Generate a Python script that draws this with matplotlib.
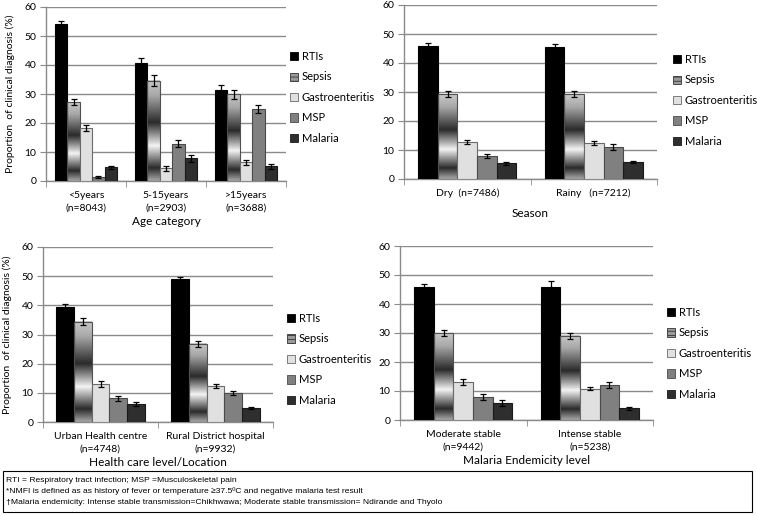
import numpy as np
import matplotlib
matplotlib.use("Agg")
import matplotlib.pyplot as plt
from matplotlib.colors import LinearSegmentedColormap
from matplotlib.patches import Patch

plt.rcParams['font.family'] = ['Lato', 'DejaVu Sans']

W, H = 757, 516

series = ['RTIs', 'Sepsis', 'Gastroenteritis', 'MSP', 'Malaria']

# panel 1 - age
age_cats = ['<5years\n(n=8043)', '5-15years\n(n=2903)', '>15years\n(n=3688)']
age_vals = [[54.1, 40.6, 31.5],
            [27.2, 34.6, 29.9],
            [18.3, 4.4, 6.5],
            [1.3, 12.9, 24.8],
            [4.7, 7.8, 5.1]]
age_err = [[1.0, 1.9, 1.5],
           [1.0, 1.8, 1.5],
           [0.9, 0.8, 0.9],
           [0.3, 1.3, 1.4],
           [0.5, 1.1, 0.8]]

# panel 2 - season
season_cats = ['Dry  (n=7486)', 'Rainy   (n=7212)']
season_vals = [[46.0, 45.5],
               [29.3, 29.3],
               [12.7, 12.4],
               [7.9, 11.0],
               [5.4, 5.9]]
season_err = [[1.0, 0.9],
              [1.0, 1.1],
              [0.8, 0.7],
              [0.6, 0.9],
              [0.5, 0.4]]

# panel 3 - health care level
level_cats = ['Urban Health centre\n(n=4748)', 'Rural District hospital\n(n=9932)']
level_vals = [[39.3, 48.9],
              [34.4, 26.8],
              [13.1, 12.2],
              [8.1, 10.1],
              [6.2, 4.9]]
level_err = [[1.0, 0.9],
             [1.3, 1.0],
             [1.0, 0.7],
             [0.8, 0.7],
             [0.8, 0.4]]

# panel 4 - endemicity
endem_cats = ['Moderate stable\n(n=9442)', 'Intense stable\n(n=5238)']
endem_vals = [[46.0, 46.0],
              [30.0, 29.0],
              [13.0, 10.8],
              [8.0, 12.0],
              [6.0, 4.0]]
endem_err = [[0.9, 2.0],
             [1.0, 1.0],
             [1.0, 0.6],
             [1.0, 1.0],
             [1.0, 0.5]]

face = ['#000000', None, '#e0e0e0', '#808080', '#2e2e2e']
edge = ['#000000', '#505050', '#6a6a6a', '#4a4a4a', '#1a1a1a']

# excel style gradient on the sepsis bars (bottom -> top)
sepsis_cmap = LinearSegmentedColormap.from_list(
    'sep', [(0.0, '#a8a8a8'), (0.13, '#2a2a2a'), (0.35, '#f4f4f4'),
            (0.58, '#2a2a2a'), (0.85, '#a8a8a8'), (1.0, '#c8c8c8')])
grad = np.linspace(0, 1, 256).reshape(-1, 1)

grid_c = '#8a8a8a'


def add_axes(l, r, top, bot):
    return plt.gcf().add_axes([l / W, 1 - bot / H, (r - l) / W, (bot - top) / H])


def panel(ax, cats, vals, err, xlabel, ylabel=None):
    n = len(cats)
    bw = 1 / 6.45
    xs = np.arange(n)
    ax.set_axisbelow(True)
    for i in range(5):
        x = xs + (i - 2) * bw
        if i == 1:
            for xi, v in zip(x, vals[i]):
                ax.imshow(grad, cmap=sepsis_cmap, aspect='auto', origin='lower',
                          extent=[xi - bw / 2, xi + bw / 2, 0, v], zorder=2)
            ax.bar(x, vals[i], bw, facecolor='none', edgecolor=edge[i],
                   linewidth=0.8, zorder=3)
        else:
            ax.bar(x, vals[i], bw, color=face[i], edgecolor=edge[i],
                   linewidth=0.8, zorder=3)
        ax.errorbar(x, vals[i], yerr=err[i], fmt='none', ecolor='black',
                    elinewidth=0.9, capsize=2.2, capthick=0.9, zorder=4)
    ax.set_xlim(-0.5, n - 0.5)
    ax.set_ylim(0, 60)
    ax.set_yticks(range(0, 61, 10))
    ax.yaxis.grid(True, color=grid_c, linewidth=1.0)
    ax.set_xticks(xs)
    ax.set_xticklabels(cats, fontsize=7.5, linespacing=1.5)
    ax.set_xticks(np.arange(n + 1) - 0.5, minor=True)
    ax.tick_params(axis='x', which='major', length=0, pad=7)
    ax.tick_params(axis='x', which='minor', length=4, color=grid_c, direction='out')
    ax.tick_params(axis='y', length=4, color=grid_c, labelsize=7.5, pad=3)
    for s in ['top', 'right']:
        ax.spines[s].set_visible(False)
    for s in ['left', 'bottom']:
        ax.spines[s].set_color(grid_c)
        ax.spines[s].set_linewidth(1.0)
    ax.set_xlabel(xlabel, fontsize=8.5, labelpad=3)
    if ylabel:
        ax.set_ylabel(ylabel, fontsize=7.5, labelpad=7)


def legend(ax, x, y):
    handles = []
    for i, s in enumerate(series):
        if i == 1:
            handles.append(Patch(facecolor='#9a9a9a', edgecolor='#333333',
                                 hatch='----', linewidth=0.6, label=s))
        else:
            handles.append(Patch(facecolor=face[i], edgecolor=edge[i],
                                 linewidth=0.6, label=s))
    ax.legend(handles=handles, loc='upper left',
              bbox_to_anchor=(x / W, 1 - y / H), bbox_transform=plt.gcf().transFigure,
              frameon=False, fontsize=8, handlelength=0.75, handleheight=0.75,
              handletextpad=0.3, labelspacing=0.85, borderpad=0, borderaxespad=0)


fig = plt.figure(figsize=(W / 100, H / 100), dpi=100)
plt.rcParams['hatch.linewidth'] = 0.6

ax1 = add_axes(46, 286, 7, 181)
panel(ax1, age_cats, age_vals, age_err, 'Age category',
      'Proportion  of clinical diagnosis (%)')
legend(ax1, 290, 51)

ax2 = add_axes(404, 657, 5, 179)
panel(ax2, season_cats, season_vals, season_err, 'Season')
ax2.xaxis.labelpad = 7
legend(ax2, 673, 54)

ax3 = add_axes(43, 273, 247, 422)
panel(ax3, level_cats, level_vals, level_err, 'Health care level/Location',
      'Proportion  of clinical diagnosis (%)')
legend(ax3, 287, 313)

ax4 = add_axes(400, 653, 246, 420)
panel(ax4, endem_cats, endem_vals, endem_err, 'Malaria Endemicity level')
legend(ax4, 667, 307)

# footnote box
box = plt.Rectangle((3 / W, 1 - 512 / H), 749 / W, 41 / H, transform=fig.transFigure,
                    facecolor='white', edgecolor='black', linewidth=0.8)
fig.patches.append(box)
notes = ['RTI = Respiratory tract infection; MSP =Musculoskeletal pain',
         '*NMFI is defined as as history of fever or temperature \u226537.5\u00baC and negative malaria test result',
         '\u2020Malaria endemicity: Intense stable transmission=Chikhwawa; Moderate stable transmission= Ndirande and Thyolo']
for k, t in enumerate(notes):
    fig.text(6 / W, 1 - (480 + 11.5 * k) / H, t, fontsize=6.1, va='center', ha='left',
             family=['Liberation Sans Narrow', 'Liberation Sans', 'DejaVu Sans'])

fig.savefig('out.png', dpi=100)
